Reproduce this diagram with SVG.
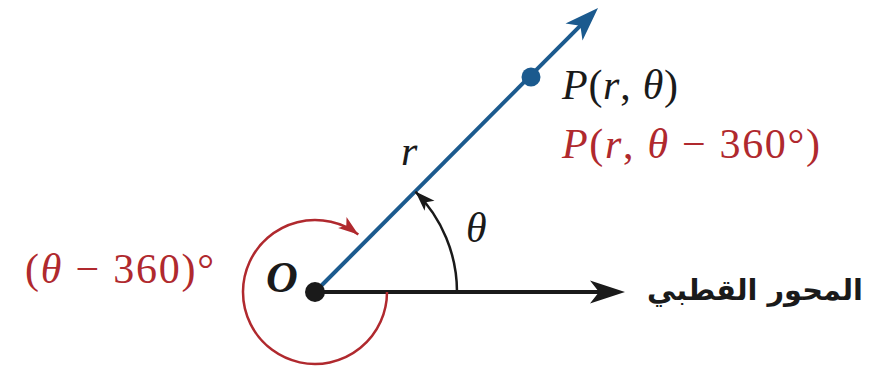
<svg xmlns="http://www.w3.org/2000/svg" width="875" height="372" viewBox="0 0 875 372">
<style>
.math{font-family:"Liberation Serif","Times New Roman",serif;font-size:42px}
.it{font-style:italic}
.red{fill:#b0292e}
.blk{fill:#1a1a1a}
.ar{font-family:"DejaVu Sans","Noto Sans",sans-serif;font-weight:bold;font-size:29px;fill:#1a1a1a}
</style>
<defs>
<marker id="ahBlack" markerUnits="userSpaceOnUse" viewBox="-40 -14 42 28" markerWidth="42" markerHeight="28" refX="-20" refY="0" orient="auto">
<path d="M0,0 L-35,-11.5 L-26,0 L-35,11.5 Z" fill="#1a1a1a"/>
</marker>
<marker id="ahBlue" markerUnits="userSpaceOnUse" viewBox="-40 -14 42 28" markerWidth="42" markerHeight="28" refX="-20" refY="0" orient="auto">
<path d="M0,0 L-34,-12 L-25,0 L-34,12 Z" fill="#1b5a8e"/>
</marker>
<marker id="ahSmallBlack" markerUnits="userSpaceOnUse" viewBox="-22 -8 24 16" markerWidth="24" markerHeight="16" refX="0" refY="0" orient="auto">
<path d="M0,0 L-20,-7 L-15,0 L-20,7 Z" fill="#1a1a1a"/>
</marker>
<marker id="ahRed" markerUnits="userSpaceOnUse" viewBox="-22 -8 24 16" markerWidth="24" markerHeight="16" refX="0" refY="0" orient="auto">
<path d="M0,0 L-20,-7 L-15,0 L-20,7 Z" fill="#b0292e"/>
</marker>
</defs>
<g id="connectors">
<line id="polar-axis" x1="315" y1="292" x2="605" y2="292" stroke="#1a1a1a" stroke-width="4" marker-end="url(#ahBlack)"/>
<line id="ray" x1="315" y1="292" x2="583.9" y2="22.1" stroke="#1b5a8e" stroke-width="4" marker-end="url(#ahBlue)"/>
<path id="theta-arc" d="M457,292 A142,142 0 0 0 415.4,191.6" fill="none" stroke="#1a1a1a" stroke-width="2.5" marker-end="url(#ahSmallBlack)"/>
<path id="neg-arc" d="M387,292 A72,72 0 1 1 358.3,234.5" fill="none" stroke="#b0292e" stroke-width="2.5" marker-end="url(#ahRed)"/>
</g>
<g id="origin">
<circle cx="315" cy="292" r="10" fill="#1a1a1a"/>
<text x="266" y="292" class="math blk" style="font-style:italic;font-weight:bold;font-size:44px">O</text>
</g>
<g id="point-P">
<circle cx="531" cy="77" r="9.5" fill="#1b5a8e"/>
<text x="562" y="99" class="math blk" textLength="116" lengthAdjust="spacing"><tspan class="it">P</tspan>(<tspan class="it">r</tspan>, <tspan class="it">θ</tspan>)</text>
<text x="562" y="158" class="math red" textLength="258" lengthAdjust="spacing"><tspan class="it">P</tspan>(<tspan class="it">r</tspan>, <tspan class="it">θ</tspan> − 360°)</text>
</g>
<g id="label-r">
<text x="401" y="165" class="math blk it">r</text>
</g>
<g id="label-theta">
<text x="466" y="242" class="math blk it">θ</text>
</g>
<g id="label-neg-angle">
<text x="25" y="283" class="math red" textLength="189" lengthAdjust="spacing">(<tspan class="it">θ</tspan> − 360)°</text>
</g>
<g id="label-polar-axis">
<text x="647" y="300" class="ar" textLength="216" lengthAdjust="spacingAndGlyphs">المحور القطبي</text>
</g>
</svg>
